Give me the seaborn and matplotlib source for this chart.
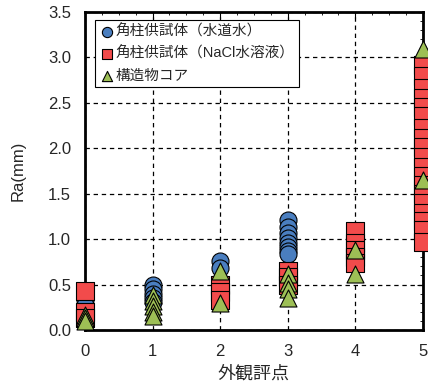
import numpy as np
import pandas as pd
import matplotlib
matplotlib.use("Agg")
import matplotlib.pyplot as plt
import seaborn as sns
from matplotlib.ticker import MultipleLocator

# ─── Data ─────────────────────────────────────────────────────────────────────
# 角柱供試体（水道水）
tap_x = [0, 0, 1, 1, 1, 1, 1, 2, 2,
         3, 3, 3, 3, 3, 3, 3, 3]
tap_y = [0.33, 0.28, 0.50, 0.45, 0.40, 0.35, 0.31, 0.76, 0.68,
         1.21, 1.13, 1.07, 1.01, 0.96, 0.91, 0.87, 0.84]

# 角柱供試体（NaCl水溶液）
nacl_x = [0, 0, 0, 2, 2, 2, 3, 3, 3, 4, 4, 4, 4, 4] + [5] * 19
nacl_y = [0.43, 0.20, 0.13, 0.50, 0.42, 0.33, 0.65, 0.58, 0.50,
          1.09, 0.96, 0.88, 0.80, 0.74] + \
         [2.92, 2.80, 2.66, 2.55, 2.45, 2.35, 2.22, 2.11, 2.01, 1.90,
          1.79, 1.70, 1.60, 1.50, 1.40, 1.29, 1.20, 1.10, 0.97]

# 構造物コア
core_x = [0, 0, 0, 1, 1, 1, 1, 1, 2, 2, 3, 3, 3, 3, 4, 4, 5, 5]
core_y = [0.16, 0.13, 0.10, 0.38, 0.32, 0.26, 0.20, 0.15, 0.65, 0.30,
          0.62, 0.52, 0.45, 0.35, 0.88, 0.62, 3.09, 1.65]

labels = ["角柱供試体（水道水）", "角柱供試体（NaCl水溶液）", "構造物コア"]
colors = ["#4a7ebf", "#f24b4b", "#9dbf55"]
markers = ["o", "s", "^"]

# ─── Plot ─────────────────────────────────────────────────────────────────────
sns.set_style("white")
plt.rcParams["font.family"] = ["Liberation Sans", "Noto Sans CJK JP", "DejaVu Sans"]

fig = plt.figure(figsize=(4.28, 3.89), dpi=100)
ax = fig.add_axes([0.1986, 0.1517, 0.7894, 0.8175])

series = [(tap_x, tap_y), (nacl_x, nacl_y), (core_x, core_y)]
for (xs, ys), lab, col, mk in zip(series, labels, colors, markers):
    df = pd.DataFrame({"score": xs, "Ra": ys})
    sns.scatterplot(data=df, x="score", y="Ra", ax=ax, marker=mk, color=col,
                    s=150, edgecolor="black", linewidth=0.8, label=lab,
                    clip_on=False, zorder=3)

ax.set_xlim(0, 5)
ax.set_ylim(0, 3.5)
ax.xaxis.set_major_locator(MultipleLocator(1))
ax.xaxis.set_minor_locator(MultipleLocator(0.25))
ax.yaxis.set_major_locator(MultipleLocator(0.5))
ax.yaxis.set_minor_locator(MultipleLocator(0.1))
ax.yaxis.set_major_formatter(matplotlib.ticker.FormatStrFormatter("%.1f"))

ax.grid(True, which="major", color="black", linestyle=(0, (3.5, 3)), linewidth=0.9)
for s in ax.spines.values():
    s.set_linewidth(2.0)
    s.set_color("black")
ax.tick_params(which="both", direction="in", top=True, right=True,
               labelsize=12, color="black")
ax.tick_params(which="major", length=4, width=0.8)
ax.tick_params(which="minor", length=2.5, width=0.6)
ax.tick_params(axis="x", which="major", pad=10)
ax.tick_params(axis="y", which="major", pad=10)

ax.set_xlabel("外観評点", fontsize=13, labelpad=5)
ax.set_ylabel("Ra(mm)", fontsize=12, labelpad=16)

leg = ax.legend(loc="upper left", bbox_to_anchor=(0.03, 0.975), fontsize=10.5,
                markerscale=0.6, handletextpad=0.1, handlelength=1.0,
                borderpad=0.3, labelspacing=0.55, frameon=True,
                fancybox=False, framealpha=1, borderaxespad=0)
leg.get_frame().set_edgecolor("black")
leg.get_frame().set_linewidth(0.8)

fig.savefig("out.png", dpi=100)
plt.close()
